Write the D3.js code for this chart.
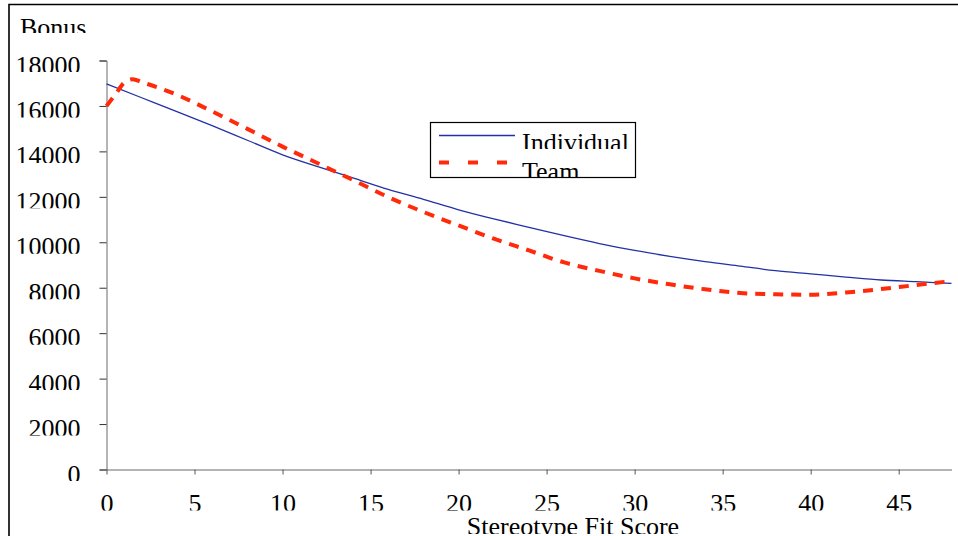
<!DOCTYPE html>
<html>
<head>
<meta charset="utf-8">
<script src="https://cdn.jsdelivr.net/npm/d3@7"></script>
<style>
  html, body { margin: 0; padding: 0; background: #fff; }
  svg { display: block; }
  text { font-family: "Liberation Serif", "Times New Roman", serif; font-size: 26px; fill: #000; }
</style>
</head>
<body>
<svg id="chart" width="958" height="536"></svg>
<script>
// Bonus by stereotype fit score, individual vs team
const individualX = [0, 2, 4, 6, 8, 10, 12, 14, 16, 18, 20, 22, 24, 26, 28, 30, 32, 34, 36, 38, 40, 42, 44, 46, 48];
const individualY = [16970, 16360, 15750, 15130, 14490, 13850, 13330, 12830, 12330, 11890, 11430, 11030, 10660, 10290, 9945, 9640, 9380, 9150, 8950, 8750, 8610, 8470, 8340, 8265, 8190];

const teamX = [0, 0.5, 1, 1.5, 2, 3, 4, 6, 8, 10, 12, 14, 16, 18, 20, 22, 24, 26, 28, 30, 32, 34, 36, 38, 40, 42, 44, 46, 48];
const teamY = [16000, 16500, 17020, 17180, 17050, 16790, 16490, 15760, 14990, 14210, 13480, 12740, 11990, 11335, 10740, 10160, 9640, 9113, 8740, 8410, 8150, 7930, 7766, 7710, 7690, 7790, 7940, 8120, 8290];

const xTicks = [0, 5, 10, 15, 20, 25, 30, 35, 40, 45];
const yTicks = [0, 2000, 4000, 6000, 8000, 10000, 12000, 14000, 16000, 18000];

const seriesNames = ["Individual", "Team"];
const yTitle = "Bonus";
const xTitle = "Stereotype Fit Score";

const svg = d3.select("#chart");
const defs = svg.append("defs");

const x = d3.scaleLinear().domain([0, 48]).range([106.5, 951.5]);
const y = d3.scaleLinear().domain([0, 18000]).range([469.5, 60.5]);

// outer frame (left and top edges)
svg.append("path")
  .attr("d", "M9,536V4.5H958")
  .attr("fill", "none")
  .attr("stroke", "#000")
  .attr("stroke-width", 1.6);

// clip regions that trim the lower edge of labels
defs.append("clipPath").attr("id", "clipY")
  .append("rect").attr("x", -200).attr("y", -30).attr("width", 200).attr("height", 41);
defs.append("clipPath").attr("id", "clipX")
  .append("rect").attr("x", -60).attr("y", 0).attr("width", 120).attr("height", 41);

// y axis
const yAxis = svg.append("g")
  .attr("transform", `translate(${x(0)},0)`)
  .call(d3.axisLeft(y).tickValues(yTicks).tickSize(7).tickPadding(19).tickFormat(d3.format("d")));
yAxis.select(".domain").attr("stroke", "#6a6a6a");
yAxis.selectAll(".tick line").attr("stroke", "#333");
yAxis.selectAll(".tick text")
  .attr("dy", null).attr("y", 12.5)
  .attr("font-size", null).attr("font-family", null)
  .attr("clip-path", "url(#clipY)");

// x axis
const xAxis = svg.append("g")
  .attr("transform", `translate(0,${y(0)})`)
  .call(d3.axisBottom(x).tickValues(xTicks).tickSize(5).tickSizeOuter(0).tickFormat(d3.format("d")));
xAxis.select(".domain").attr("stroke", "#6a6a6a");
xAxis.selectAll(".tick line").attr("stroke", "#555");
xAxis.selectAll(".tick text")
  .attr("dy", null).attr("y", 42)
  .attr("font-size", null).attr("font-family", null)
  .attr("clip-path", "url(#clipX)");

// axis titles (bottoms trimmed)
defs.append("clipPath").attr("id", "clipYTitle")
  .append("rect").attr("x", 0).attr("y", 0).attr("width", 120).attr("height", 33);
svg.append("text").attr("x", 20).attr("y", 35.5).text(yTitle).attr("clip-path", "url(#clipYTitle)");

defs.append("clipPath").attr("id", "clipXTitle")
  .append("rect").attr("x", 300).attr("y", 500).attr("width", 500).attr("height", 34);
svg.append("text").attr("x", 573).attr("y", 535).attr("text-anchor", "middle")
  .text(xTitle).attr("clip-path", "url(#clipXTitle)");

// series lines
const line = d3.line().x(d => x(d[0])).y(d => y(d[1])).curve(d3.curveMonotoneX);
const individual = individualX.map((v, i) => [v, individualY[i]]);
const team = teamX.map((v, i) => [v, teamY[i]]);

const blue = "#2231a6";
const red = "#ff2a0a";

svg.append("path").datum(individual)
  .attr("d", line).attr("fill", "none")
  .attr("stroke", blue).attr("stroke-width", 1.3);

svg.append("path").datum(team)
  .attr("d", line).attr("fill", "none")
  .attr("stroke", red).attr("stroke-width", 4)
  .attr("stroke-dasharray", "10,8");

// legend
const lg = svg.append("g");
lg.append("rect").attr("x", 430.5).attr("y", 122.5).attr("width", 205).attr("height", 55)
  .attr("fill", "#fff").attr("stroke", "#000").attr("stroke-width", 1.2);
lg.append("line").attr("x1", 439).attr("x2", 515).attr("y1", 135.5).attr("y2", 135.5)
  .attr("stroke", blue).attr("stroke-width", 1.3);
lg.append("line").attr("x1", 439).attr("x2", 515).attr("y1", 162.5).attr("y2", 162.5)
  .attr("stroke", red).attr("stroke-width", 4).attr("stroke-dasharray", "10,19");

defs.append("clipPath").attr("id", "clipLeg1")
  .append("rect").attr("x", 515).attr("y", 120).attr("width", 118).attr("height", 29);
defs.append("clipPath").attr("id", "clipLeg2")
  .append("rect").attr("x", 515).attr("y", 150).attr("width", 118).attr("height", 27);
lg.append("text").attr("x", 522).attr("y", 150.5).text(seriesNames[0]).attr("clip-path", "url(#clipLeg1)");
lg.append("text").attr("x", 522).attr("y", 179.5).text(seriesNames[1]).attr("clip-path", "url(#clipLeg2)");
</script>
</body>
</html>
